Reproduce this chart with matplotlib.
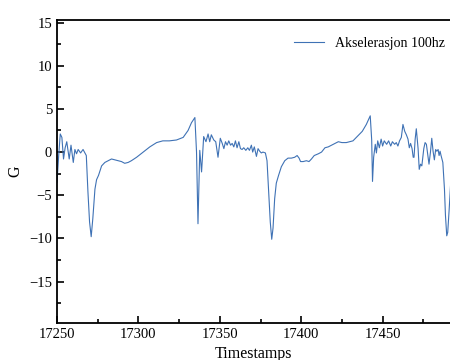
import matplotlib
matplotlib.use("Agg")
import matplotlib.pyplot as plt
from matplotlib.ticker import MultipleLocator

timestamps = [17250, 17251, 17252, 17253, 17254, 17255, 17256, 17257.5, 17258.6, 17260,
              17261, 17262, 17263, 17264.5, 17266, 17268, 17269, 17270, 17271, 17272,
              17273.3, 17274.3, 17275.5, 17277.4, 17279.4, 17281.5, 17283.5, 17285.5, 17287.5, 17289.6,
              17291.6, 17293.7, 17295.7, 17298.9, 17303, 17307, 17311.2, 17315, 17319, 17323.4,
              17327.5, 17330.5, 17332.6, 17334.7, 17335.7, 17336.6, 17337.7, 17338.8, 17340.1, 17341.5,
              17342.8, 17343.8, 17344.8, 17346.3, 17347.5, 17348.9, 17350.3, 17351.5, 17352.5, 17353.5,
              17354.5, 17355.5, 17356.6, 17357.6, 17358.6, 17359.6, 17360.6, 17361.7, 17362.7, 17363.7,
              17364.7, 17366, 17367.2, 17368.2, 17369.4, 17370.2, 17371.2, 17372.5, 17373.5, 17374.5,
              17375.5, 17376.5, 17378, 17379, 17380, 17381, 17381.9, 17382.7, 17383.7, 17384.7,
              17386.1, 17387.8, 17389.9, 17391.9, 17394, 17396, 17397.5, 17398.7, 17399.6, 17401.2,
              17403.2, 17404.8, 17406.3, 17408, 17410.5, 17412.5, 17414.6, 17416.6, 17418.7, 17420.7,
              17422.8, 17425, 17427.7, 17431.8, 17434.9, 17437.5, 17440, 17442.4, 17443.3, 17443.8,
              17444.5, 17445.5, 17446.2, 17447, 17448, 17449.1, 17450, 17451, 17452.5, 17453.7,
              17455, 17456, 17457.4, 17458.4, 17459.4, 17460.4, 17461.5, 17462.5, 17463.6, 17464.6,
              17465.6, 17466.4, 17467.2, 17468.1, 17468.8, 17469.3, 17470, 17470.7, 17471.8, 17472.5,
              17473.3, 17474.1, 17475.3, 17476.1, 17476.9, 17477.7, 17478.5, 17479.4, 17480.2, 17481,
              17481.8, 17482.6, 17483.3, 17484.1, 17484.7, 17485.3, 17485.9, 17487, 17488, 17488.6,
              17489.4, 17490, 17490.9, 17492]

accel_g = [-3.5, -0.5, 2.1, 1.7, -0.8, 0.5, 1.2, -0.8, 0.8, -1.2,
           0.3, -0.2, 0.3, -0.1, 0.3, -0.4, -4.6, -8.1, -9.8, -7.7,
           -4.3, -3.2, -2.7, -1.6, -1.2, -1.0, -0.8, -0.9, -1.0, -1.1,
           -1.3, -1.2, -1.0, -0.6, 0.0, 0.6, 1.1, 1.3, 1.3, 1.4,
           1.7, 2.5, 3.4, 4.0, 0.0, -8.3, 0.2, -2.3, 1.8, 1.2,
           2.1, 1.2, 2.0, 1.4, 1.2, -0.6, 1.6, 1.0, 0.4, 1.2,
           0.8, 1.3, 0.8, 1.0, 0.6, 1.3, 0.5, 1.2, 0.4, 0.3,
           0.5, 0.2, 0.5, 0.2, 0.8, 0.0, 0.6, -0.5, 0.4, 0.1,
           -0.1, 0.0, -0.1, -1.0, -4.6, -8.1, -10.1, -8.8, -5.4, -3.6,
           -2.7, -1.7, -1.0, -0.7, -0.7, -0.6, -0.4, -0.7, -1.1, -1.1,
           -1.0, -1.1, -0.8, -0.4, -0.2, 0.0, 0.5, 0.6, 0.8, 1.0,
           1.2, 1.1, 1.1, 1.3, 1.9, 2.4, 3.2, 4.2, 1.4, -3.4,
           -0.6, 0.9, -0.1, 1.3, 0.5, 1.5, 0.7, 1.3, 0.9, 1.3,
           0.7, 1.2, 0.9, 1.1, 0.7, 1.3, 1.7, 3.2, 2.4, 2.0,
           1.5, 0.5, 1.0, 0.4, -0.6, -0.6, 1.5, 2.7, 0.4, -2.0,
           -1.4, -1.6, 0.4, 1.1, 0.9, -0.3, -1.4, 0.0, 1.6, 0.1,
           -0.9, 0.3, 0.1, 0.3, -0.4, 0.1, -0.4, -1.2, -4.3, -7.3,
           -9.7, -9.3, -6.6, -3.0]

x_ticks = [17250, 17300, 17350, 17400, 17450]
y_ticks = [-15, -10, -5, 0, 5, 10, 15]
series_label = "Akselerasjon 100hz"

plt.rcParams['font.family'] = ['Liberation Serif', 'DejaVu Serif']
plt.rcParams['mathtext.fontset'] = 'stix'

fig = plt.figure(figsize=(4.5, 3.6), dpi=100)
ax = fig.add_axes([57 / 450, 37 / 360, 1 - 57 / 450, 303 / 360])
ax.plot(timestamps, accel_g, color='#3f72b5', linewidth=0.8, label=series_label)

ax.set_xlim(17250, 17491.4)
ax.set_ylim(-19.8, 15.3)
ax.set_xticks(x_ticks)
ax.set_yticks(y_ticks)
ax.xaxis.set_minor_locator(MultipleLocator(25))
ax.yaxis.set_minor_locator(MultipleLocator(2.5))
ax.tick_params(which='both', direction='in', labelsize=10.5, width=1.2, top=False, right=False)
ax.tick_params(which='major', length=5)
ax.tick_params(which='minor', length=3.2)
for s in ['left', 'bottom', 'top']:
    ax.spines[s].set_linewidth(1.3)
ax.spines['right'].set_visible(False)

ax.set_xlabel('Timestamps', fontsize=11.5, labelpad=4)
ax.set_ylabel('G', fontsize=11.5, labelpad=4)
ax.legend(loc='upper right', frameon=False, fontsize=10, handlelength=2.2,
          bbox_to_anchor=(1.02, 0.985))

fig.savefig('out.png', dpi=100)
